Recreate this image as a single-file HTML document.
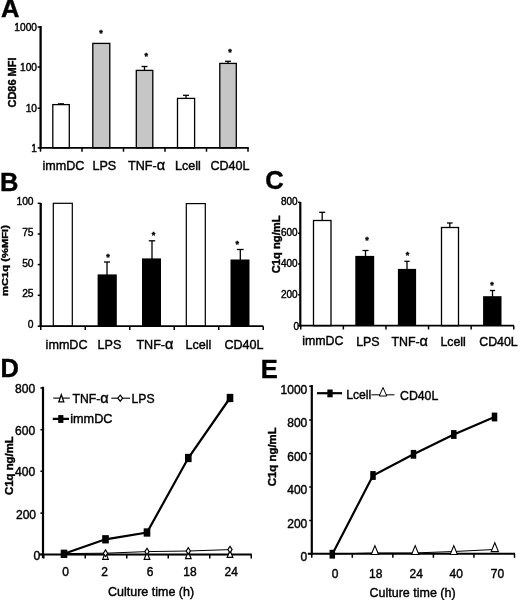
<!DOCTYPE html>
<html><head><meta charset="utf-8"><title>Figure</title>
<style>
html,body{margin:0;padding:0;background:#fff;}
body{width:520px;height:600px;overflow:hidden;}
svg{display:block;}
svg text{font-family:"Liberation Sans", sans-serif;fill:#000;stroke:#000;stroke-width:0.4px;}
</style></head>
<body>
<svg width="520" height="600" viewBox="0 0 520 600">
<defs><filter id="b" x="0" y="0" width="520" height="600" filterUnits="userSpaceOnUse"><feGaussianBlur stdDeviation="0.35"/></filter></defs>
<g filter="url(#b)">
<rect x="-5" y="-5" width="530" height="610" fill="#fff"/>
<text x="1.1" y="17.4" font-size="25.5" text-anchor="start" font-weight="bold" >A</text>
<rect x="52.8" y="104.6" width="16.5" height="43.30000000000001" fill="#fff" stroke="#000" stroke-width="1.3"/>
<rect x="92.8" y="43.4" width="17.0" height="104.5" fill="#c6c6c6" stroke="#000" stroke-width="1.3"/>
<rect x="136.3" y="70.4" width="16.5" height="77.5" fill="#c6c6c6" stroke="#000" stroke-width="1.3"/>
<rect x="177.5" y="98.4" width="17.099999999999994" height="49.5" fill="#fff" stroke="#000" stroke-width="1.3"/>
<rect x="219.8" y="63.4" width="16.5" height="84.5" fill="#c6c6c6" stroke="#000" stroke-width="1.3"/>
<line x1="61" y1="103.7" x2="61" y2="104.4" stroke="#000" stroke-width="1" />
<line x1="58" y1="103.7" x2="64" y2="103.7" stroke="#000" stroke-width="1" />
<line x1="144.5" y1="66.5" x2="144.5" y2="70" stroke="#000" stroke-width="1.3" />
<line x1="141.5" y1="66.5" x2="147.5" y2="66.5" stroke="#000" stroke-width="1.3" />
<line x1="186" y1="95.3" x2="186" y2="98" stroke="#000" stroke-width="1.3" />
<line x1="183" y1="95.3" x2="189" y2="95.3" stroke="#000" stroke-width="1.3" />
<line x1="228" y1="61.3" x2="228" y2="63" stroke="#000" stroke-width="1.3" />
<line x1="225" y1="61.3" x2="231" y2="61.3" stroke="#000" stroke-width="1.3" />
<text x="101" y="35.88" font-size="9" text-anchor="middle" font-weight="bold" >*</text>
<text x="146.3" y="59.08" font-size="9" text-anchor="middle" font-weight="bold" >*</text>
<text x="230" y="55.28" font-size="9" text-anchor="middle" font-weight="bold" >*</text>
<line x1="40.6" y1="26" x2="40.6" y2="148.8" stroke="#000" stroke-width="2.3" />
<line x1="37.6" y1="27" x2="40.6" y2="27" stroke="#000" stroke-width="1.5" />
<line x1="37.6" y1="67" x2="40.6" y2="67" stroke="#000" stroke-width="1.5" />
<line x1="37.6" y1="108.2" x2="40.6" y2="108.2" stroke="#000" stroke-width="1.5" />
<line x1="37.6" y1="147.9" x2="40.6" y2="147.9" stroke="#000" stroke-width="1.5" />
<line x1="39.6" y1="147.9" x2="248.8" y2="147.9" stroke="#000" stroke-width="1.8" />
<line x1="40.5" y1="147.9" x2="40.5" y2="151.70000000000002" stroke="#000" stroke-width="1.5" />
<line x1="82" y1="147.9" x2="82" y2="151.70000000000002" stroke="#000" stroke-width="1.5" />
<line x1="123.5" y1="147.9" x2="123.5" y2="151.70000000000002" stroke="#000" stroke-width="1.5" />
<line x1="165" y1="147.9" x2="165" y2="151.70000000000002" stroke="#000" stroke-width="1.5" />
<line x1="206.5" y1="147.9" x2="206.5" y2="151.70000000000002" stroke="#000" stroke-width="1.5" />
<line x1="248" y1="147.9" x2="248" y2="151.70000000000002" stroke="#000" stroke-width="1.5" />
<text x="37" y="31" font-size="10.2" text-anchor="end" >1000</text>
<text x="37" y="71.1" font-size="10.2" text-anchor="end" >100</text>
<text x="37" y="112.4" font-size="10.2" text-anchor="end" >10</text>
<text x="37" y="152.4" font-size="10.2" text-anchor="end" >1</text>
<text x="42.4" y="170" font-size="12.6" text-anchor="start" >immDC</text>
<text x="92.4" y="170" font-size="12.6" text-anchor="start" >LPS</text>
<text x="128" y="170" font-size="12.6" text-anchor="start" >TNF-<tspan font-size="14.5">&#945;</tspan></text>
<text x="175" y="170" font-size="12.6" text-anchor="start" >Lcell</text>
<text x="210.4" y="170" font-size="12.6" text-anchor="start" >CD40L</text>
<text transform="translate(16.4,82.5) rotate(-90)" font-size="11" text-anchor="middle" font-weight="bold" >CD86 MFI</text>
<text x="0" y="191" font-size="25.5" text-anchor="start" font-weight="bold" >B</text>
<rect x="53.3" y="203.3" width="19.0" height="122.89999999999998" fill="#fff" stroke="#000" stroke-width="1.2"/>
<rect x="97.6" y="274.4" width="19.200000000000003" height="51.80000000000001" fill="#000" stroke="#000" stroke-width="0"/>
<rect x="142" y="258.4" width="19" height="67.80000000000001" fill="#000" stroke="#000" stroke-width="0"/>
<rect x="186.3" y="203.6" width="19.0" height="122.6" fill="#fff" stroke="#000" stroke-width="1.2"/>
<rect x="230.5" y="259.5" width="19.0" height="66.69999999999999" fill="#000" stroke="#000" stroke-width="0"/>
<line x1="107" y1="262" x2="107" y2="275" stroke="#000" stroke-width="1.3" />
<line x1="104" y1="262" x2="110" y2="262" stroke="#000" stroke-width="1.3" />
<line x1="152" y1="240.8" x2="152" y2="259" stroke="#000" stroke-width="1.3" />
<line x1="148.8" y1="240.8" x2="155.2" y2="240.8" stroke="#000" stroke-width="1.3" />
<line x1="240.3" y1="249.5" x2="240.3" y2="260" stroke="#000" stroke-width="1.3" />
<line x1="236.9" y1="249.5" x2="243.70000000000002" y2="249.5" stroke="#000" stroke-width="1.3" />
<text x="108" y="260.47999999999996" font-size="9" text-anchor="middle" font-weight="bold" >*</text>
<text x="153.5" y="238.28" font-size="9" text-anchor="middle" font-weight="bold" >*</text>
<text x="237.3" y="247.48000000000002" font-size="9" text-anchor="middle" font-weight="bold" >*</text>
<line x1="40.7" y1="203" x2="40.7" y2="327.09999999999997" stroke="#000" stroke-width="2.3" />
<line x1="37.7" y1="203.3" x2="40.7" y2="203.3" stroke="#000" stroke-width="1.5" />
<line x1="37.7" y1="234" x2="40.7" y2="234" stroke="#000" stroke-width="1.5" />
<line x1="37.7" y1="264.6" x2="40.7" y2="264.6" stroke="#000" stroke-width="1.5" />
<line x1="37.7" y1="295.3" x2="40.7" y2="295.3" stroke="#000" stroke-width="1.5" />
<line x1="37.7" y1="326.2" x2="40.7" y2="326.2" stroke="#000" stroke-width="1.5" />
<line x1="39.7" y1="326.2" x2="263.3" y2="326.2" stroke="#000" stroke-width="1.8" />
<line x1="40.75" y1="326.2" x2="40.75" y2="330.0" stroke="#000" stroke-width="1.5" />
<line x1="85.25" y1="326.2" x2="85.25" y2="330.0" stroke="#000" stroke-width="1.5" />
<line x1="129.75" y1="326.2" x2="129.75" y2="330.0" stroke="#000" stroke-width="1.5" />
<line x1="174.25" y1="326.2" x2="174.25" y2="330.0" stroke="#000" stroke-width="1.5" />
<line x1="218.75" y1="326.2" x2="218.75" y2="330.0" stroke="#000" stroke-width="1.5" />
<line x1="263.25" y1="326.2" x2="263.25" y2="330.0" stroke="#000" stroke-width="1.5" />
<text x="33.6" y="205.3" font-size="10.3" text-anchor="end" stroke-width="0.4">100</text>
<text x="33.6" y="236.0" font-size="10.3" text-anchor="end" stroke-width="0.4">75</text>
<text x="33.6" y="266.6" font-size="10.3" text-anchor="end" stroke-width="0.4">50</text>
<text x="33.6" y="297.3" font-size="10.3" text-anchor="end" stroke-width="0.4">25</text>
<text x="33.6" y="328.2" font-size="10.3" text-anchor="end" stroke-width="0.4">0</text>
<text x="45.6" y="349.1" font-size="12.6" text-anchor="start" >immDC</text>
<text x="97.6" y="349.1" font-size="12.6" text-anchor="start" >LPS</text>
<text x="136.4" y="349.1" font-size="12.6" text-anchor="start" >TNF-<tspan font-size="14.5">&#945;</tspan></text>
<text x="185.4" y="349.1" font-size="12.6" text-anchor="start" >Lcell</text>
<text x="224.4" y="349.1" font-size="12.6" text-anchor="start" >CD40L</text>
<text transform="translate(8.4,260.5) rotate(-90) scale(1,0.86)" stroke-width="0.4" font-size="11.2" text-anchor="middle" font-weight="bold">mC1q (%MFI)</text>
<text x="265.2" y="188.8" font-size="25.5" text-anchor="start" font-weight="bold" >C</text>
<rect x="313.5" y="220.5" width="17.5" height="105.19999999999999" fill="#fff" stroke="#000" stroke-width="1.3"/>
<rect x="355.3" y="255.9" width="18.899999999999977" height="69.79999999999998" fill="#000" stroke="#000" stroke-width="0"/>
<rect x="397.9" y="268.9" width="18.200000000000045" height="56.80000000000001" fill="#000" stroke="#000" stroke-width="0"/>
<rect x="441.5" y="227.5" width="17.0" height="98.19999999999999" fill="#fff" stroke="#000" stroke-width="1.3"/>
<rect x="483.1" y="296.2" width="18.399999999999977" height="29.5" fill="#000" stroke="#000" stroke-width="0"/>
<line x1="322.2" y1="212.3" x2="322.2" y2="220.5" stroke="#000" stroke-width="1.3" />
<line x1="319.2" y1="212.3" x2="325.2" y2="212.3" stroke="#000" stroke-width="1.3" />
<line x1="365.5" y1="250.5" x2="365.5" y2="257" stroke="#000" stroke-width="1.3" />
<line x1="362.5" y1="250.5" x2="368.5" y2="250.5" stroke="#000" stroke-width="1.3" />
<line x1="407" y1="261.3" x2="407" y2="270" stroke="#000" stroke-width="1.3" />
<line x1="404.4" y1="261.3" x2="409.6" y2="261.3" stroke="#000" stroke-width="1.3" />
<line x1="449.8" y1="223" x2="449.8" y2="227.5" stroke="#000" stroke-width="1.3" />
<line x1="447.0" y1="223" x2="452.6" y2="223" stroke="#000" stroke-width="1.3" />
<line x1="492.5" y1="290.5" x2="492.5" y2="297" stroke="#000" stroke-width="1.3" />
<line x1="489.9" y1="290.5" x2="495.1" y2="290.5" stroke="#000" stroke-width="1.3" />
<text x="367" y="242.58" font-size="9" text-anchor="middle" font-weight="bold" >*</text>
<text x="407.5" y="257.58" font-size="9" text-anchor="middle" font-weight="bold" >*</text>
<text x="492" y="287.58" font-size="9" text-anchor="middle" font-weight="bold" >*</text>
<line x1="300.3" y1="202" x2="300.3" y2="326.59999999999997" stroke="#000" stroke-width="2.2" />
<line x1="298.1" y1="202.3" x2="300.3" y2="202.3" stroke="#000" stroke-width="1.5" />
<line x1="298.1" y1="233.2" x2="300.3" y2="233.2" stroke="#000" stroke-width="1.5" />
<line x1="298.1" y1="264" x2="300.3" y2="264" stroke="#000" stroke-width="1.5" />
<line x1="298.1" y1="294.9" x2="300.3" y2="294.9" stroke="#000" stroke-width="1.5" />
<line x1="298.1" y1="325.7" x2="300.3" y2="325.7" stroke="#000" stroke-width="1.5" />
<line x1="299.3" y1="325.7" x2="514" y2="325.7" stroke="#000" stroke-width="1.8" />
<line x1="300.75" y1="325.7" x2="300.75" y2="329.5" stroke="#000" stroke-width="1.5" />
<line x1="343.35" y1="325.7" x2="343.35" y2="329.5" stroke="#000" stroke-width="1.5" />
<line x1="385.95" y1="325.7" x2="385.95" y2="329.5" stroke="#000" stroke-width="1.5" />
<line x1="428.55" y1="325.7" x2="428.55" y2="329.5" stroke="#000" stroke-width="1.5" />
<line x1="471.15" y1="325.7" x2="471.15" y2="329.5" stroke="#000" stroke-width="1.5" />
<line x1="513.75" y1="325.7" x2="513.75" y2="329.5" stroke="#000" stroke-width="1.5" />
<text x="297.6" y="205.20000000000002" font-size="10" text-anchor="end" >800</text>
<text x="297.6" y="236.1" font-size="10" text-anchor="end" >600</text>
<text x="297.6" y="266.9" font-size="10" text-anchor="end" >400</text>
<text x="297.6" y="297.79999999999995" font-size="10" text-anchor="end" >200</text>
<text x="299" y="329.9" font-size="10" text-anchor="end" >0</text>
<text x="302.2" y="345" font-size="12.4" text-anchor="start" >immDC</text>
<text x="356.2" y="346" font-size="12.4" text-anchor="start" >LPS</text>
<text x="391.4" y="345.5" font-size="12.4" text-anchor="start" >TNF-<tspan font-size="14.5">&#945;</tspan></text>
<text x="440.4" y="345.5" font-size="12.4" text-anchor="start" >Lcell</text>
<text x="479.2" y="345.5" font-size="12.4" text-anchor="start" >CD40L</text>
<text transform="translate(280,244.3) rotate(-90)" font-size="11.2" text-anchor="middle" font-weight="bold" stroke-width="0.35">C1q ng/mL</text>
<text x="0.4" y="376.8" font-size="25.5" text-anchor="start" font-weight="bold" >D</text>
<polyline fill="none" stroke="#000" stroke-width="1" points="64,553.6 105.5,553.2 147,551.6 188.3,551 230,549.6"/>
<polyline fill="none" stroke="#000" stroke-width="1" points="64,554.6 105.5,554.6 147,554.6 188.3,554.6 230,554.6"/>
<line x1="43" y1="386.8" x2="43" y2="558.1999999999999" stroke="#000" stroke-width="2.2" />
<line x1="40.4" y1="388" x2="43" y2="388" stroke="#000" stroke-width="1.5" />
<line x1="40.4" y1="429.7" x2="43" y2="429.7" stroke="#000" stroke-width="1.5" />
<line x1="40.4" y1="471.3" x2="43" y2="471.3" stroke="#000" stroke-width="1.5" />
<line x1="40.4" y1="513.1" x2="43" y2="513.1" stroke="#000" stroke-width="1.5" />
<line x1="40.4" y1="554.4" x2="43" y2="554.4" stroke="#000" stroke-width="1.5" />
<line x1="39" y1="554.4" x2="251.8" y2="554.4" stroke="#000" stroke-width="2" />
<line x1="43.75" y1="554.4" x2="43.75" y2="558.4" stroke="#000" stroke-width="1.5" />
<line x1="85.25" y1="554.4" x2="85.25" y2="558.4" stroke="#000" stroke-width="1.5" />
<line x1="126.75" y1="554.4" x2="126.75" y2="558.4" stroke="#000" stroke-width="1.5" />
<line x1="168.25" y1="554.4" x2="168.25" y2="558.4" stroke="#000" stroke-width="1.5" />
<line x1="209.75" y1="554.4" x2="209.75" y2="558.4" stroke="#000" stroke-width="1.5" />
<line x1="251.25" y1="554.4" x2="251.25" y2="558.4" stroke="#000" stroke-width="1.5" />
<polygon points="105.5,552.1 108.3,559.4 102.7,559.4" fill="#fff" stroke="#000" stroke-width="1.2"/>
<polygon points="147,552.1 149.8,559.4 144.2,559.4" fill="#fff" stroke="#000" stroke-width="1.2"/>
<polygon points="188.3,551.4 191.10000000000002,558.6999999999999 185.5,558.6999999999999" fill="#fff" stroke="#000" stroke-width="1.2"/>
<polygon points="230,550.1 232.8,557.4 227.2,557.4" fill="#fff" stroke="#000" stroke-width="1.2"/>
<polygon points="105.5,549.9000000000001 107.6,553.2 105.5,556.5 103.4,553.2" fill="#fff" stroke="#000" stroke-width="1.2"/>
<polygon points="147,548.3000000000001 149.1,551.6 147,554.9 144.9,551.6" fill="#fff" stroke="#000" stroke-width="1.2"/>
<polygon points="188.3,547.7 190.4,551 188.3,554.3 186.20000000000002,551" fill="#fff" stroke="#000" stroke-width="1.2"/>
<polygon points="230,546.3000000000001 232.1,549.6 230,552.9 227.9,549.6" fill="#fff" stroke="#000" stroke-width="1.2"/>
<polyline fill="none" stroke="#000" stroke-width="2.2" points="64,553.8 105.5,539.3 147,532.5 188.3,458 230,398"/>
<rect x="60.7" y="549.65" width="6.6" height="8.3" fill="#000"/>
<rect x="102.2" y="535.15" width="6.6" height="8.3" fill="#000"/>
<rect x="143.7" y="528.35" width="6.6" height="8.3" fill="#000"/>
<rect x="185.0" y="453.85" width="6.6" height="8.3" fill="#000"/>
<rect x="226.7" y="393.85" width="6.6" height="8.3" fill="#000"/>
<text x="35.3" y="392.8" font-size="12.1" text-anchor="end" >800</text>
<text x="35.3" y="434.7" font-size="12.1" text-anchor="end" >600</text>
<text x="35.3" y="476.4" font-size="12.1" text-anchor="end" >400</text>
<text x="36.1" y="518.9" font-size="12.1" text-anchor="end" >200</text>
<text x="40.2" y="559.8" font-size="12.1" text-anchor="end" >0</text>
<text x="65.5" y="576.3" font-size="12" text-anchor="middle" >0</text>
<text x="104.5" y="576.3" font-size="12" text-anchor="middle" >2</text>
<text x="150" y="576.3" font-size="12" text-anchor="middle" >6</text>
<text x="190" y="576.3" font-size="12" text-anchor="middle" >18</text>
<text x="231.3" y="576.3" font-size="12" text-anchor="middle" >24</text>
<text x="108" y="596.3" font-size="12.5" text-anchor="start" >Culture time (h)</text>
<text transform="translate(12.6,465.6) rotate(-90)" font-size="11.4" text-anchor="middle" font-weight="bold" stroke-width="0.35">C1q ng/mL</text>
<line x1="53.2" y1="398.1" x2="69.8" y2="398.1" stroke="#000" stroke-width="1.1" />
<polygon points="61.3,394.8 63.8,401.8 58.8,401.8" fill="#fff" stroke="#000" stroke-width="1.3"/>
<text x="72.5" y="403" font-size="12.2" text-anchor="start" >TNF-<tspan font-size="14.5">&#945;</tspan></text>
<line x1="111.3" y1="398.2" x2="130" y2="398.2" stroke="#000" stroke-width="1.1" />
<polygon points="120.2,395.2 122.60000000000001,398.2 120.2,401.2 117.8,398.2" fill="#fff" stroke="#000" stroke-width="1.2"/>
<text x="131.6" y="403" font-size="12.2" text-anchor="start" >LPS</text>
<line x1="52.8" y1="418.9" x2="69" y2="418.9" stroke="#000" stroke-width="2.3" />
<rect x="58.199999999999996" y="415.1" width="5.2" height="7.8" fill="#000"/>
<text x="70.2" y="423" font-size="12.7" text-anchor="start" >immDC</text>
<text x="260.8" y="377.8" font-size="25.5" text-anchor="start" font-weight="bold" >E</text>
<polyline fill="none" stroke="#000" stroke-width="1" points="332.3,554 373,553 413.5,553 453.8,551.5 494.5,549.5"/>
<line x1="311.8" y1="385" x2="311.8" y2="554.6999999999999" stroke="#000" stroke-width="2.2" />
<line x1="309.2" y1="386.3" x2="311.8" y2="386.3" stroke="#000" stroke-width="1.5" />
<line x1="309.2" y1="420" x2="311.8" y2="420" stroke="#000" stroke-width="1.5" />
<line x1="309.2" y1="453.6" x2="311.8" y2="453.6" stroke="#000" stroke-width="1.5" />
<line x1="309.2" y1="487" x2="311.8" y2="487" stroke="#000" stroke-width="1.5" />
<line x1="309.2" y1="520.5" x2="311.8" y2="520.5" stroke="#000" stroke-width="1.5" />
<line x1="309.2" y1="553.8" x2="311.8" y2="553.8" stroke="#000" stroke-width="1.5" />
<line x1="307.8" y1="553.8" x2="515" y2="553.8" stroke="#000" stroke-width="2" />
<line x1="311.75" y1="553.8" x2="311.75" y2="557.8" stroke="#000" stroke-width="1.5" />
<line x1="352.3" y1="553.8" x2="352.3" y2="557.8" stroke="#000" stroke-width="1.5" />
<line x1="392.85" y1="553.8" x2="392.85" y2="557.8" stroke="#000" stroke-width="1.5" />
<line x1="433.4" y1="553.8" x2="433.4" y2="557.8" stroke="#000" stroke-width="1.5" />
<line x1="473.95" y1="553.8" x2="473.95" y2="557.8" stroke="#000" stroke-width="1.5" />
<line x1="514.5" y1="553.8" x2="514.5" y2="557.8" stroke="#000" stroke-width="1.5" />
<polygon points="374.9,545.6 378.54999999999995,554.5 371.25,554.5" fill="#fff" stroke="#000" stroke-width="1.1"/>
<polygon points="415.2,545.6 418.84999999999997,554.5 411.55,554.5" fill="#fff" stroke="#000" stroke-width="1.1"/>
<polygon points="453.8,545.6 457.45,554.5 450.15000000000003,554.5" fill="#fff" stroke="#000" stroke-width="1.1"/>
<polygon points="494.8,542.6999999999999 498.45,551.5999999999999 491.15000000000003,551.5999999999999" fill="#fff" stroke="#000" stroke-width="1.1"/>
<polyline fill="none" stroke="#000" stroke-width="2.2" points="332.3,554.2 373,475.5 413.5,454.3 453.8,434.5 494.5,417"/>
<rect x="329.55" y="549.8000000000001" width="5.5" height="8.8" fill="#000"/>
<rect x="370.25" y="471.1" width="5.5" height="8.8" fill="#000"/>
<rect x="410.75" y="449.90000000000003" width="5.5" height="8.8" fill="#000"/>
<rect x="451.05" y="430.1" width="5.5" height="8.8" fill="#000"/>
<rect x="491.75" y="412.6" width="5.5" height="8.8" fill="#000"/>
<text x="307.3" y="393.5" font-size="12" text-anchor="end" >1000</text>
<text x="307.3" y="427.2" font-size="12" text-anchor="end" >800</text>
<text x="307.3" y="460.8" font-size="12" text-anchor="end" >600</text>
<text x="307.3" y="494.2" font-size="12" text-anchor="end" >400</text>
<text x="307.3" y="527.7" font-size="12" text-anchor="end" >200</text>
<text x="307.3" y="561.0" font-size="12" text-anchor="end" >0</text>
<text x="335" y="577.5" font-size="12" text-anchor="middle" >0</text>
<text x="375.8" y="577.5" font-size="12" text-anchor="middle" >18</text>
<text x="416.3" y="577.5" font-size="12" text-anchor="middle" >24</text>
<text x="456.3" y="577.5" font-size="12" text-anchor="middle" >40</text>
<text x="497.5" y="577.5" font-size="12" text-anchor="middle" >70</text>
<text x="369.5" y="597" font-size="12.5" text-anchor="start" >Culture time (h)</text>
<text transform="translate(275.9,456.8) rotate(-90)" font-size="11.4" text-anchor="middle" font-weight="bold" stroke-width="0.35">C1q ng/mL</text>
<line x1="317" y1="393.2" x2="342" y2="393.2" stroke="#000" stroke-width="2.2" />
<rect x="327.35" y="389.5" width="5.3" height="7.8" fill="#000"/>
<text x="346.2" y="399.3" font-size="12.2" text-anchor="start" >Lcell</text>
<line x1="371.3" y1="394.8" x2="394.5" y2="394.8" stroke="#000" stroke-width="1" />
<polygon points="383,387.5 386.75,396 379.25,396" fill="#fff" stroke="#000" stroke-width="1"/>
<text x="400" y="399.5" font-size="12.3" text-anchor="start" >CD40L</text>
</g>
</svg>
</body></html>
